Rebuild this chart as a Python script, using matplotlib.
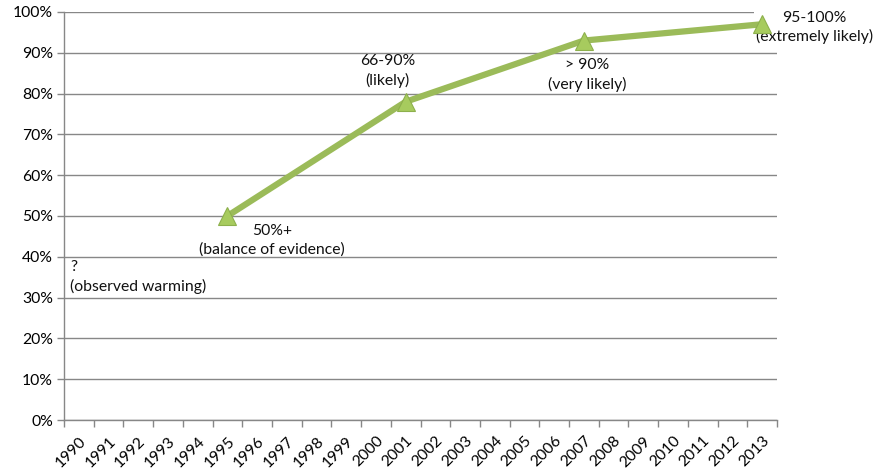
import matplotlib.pyplot as plt
import numpy as np

# categories and values
years = [str(y) for y in range(1990, 2014)]
pt_years = ["1995", "2001", "2007", "2013"]
pt_values = [50, 78, 93, 97]

# annotation labels: (year, y-value, text, dx, dy, ha, white box)
labels = [
    ("1990", 35, "?\n(observed warming)", -0.3, 0.0, "left", False),
    ("1995", 50, "50%+\n(balance of evidence)", 1.5, -6, "center", False),
    ("2001", 78, "66-90%\n(likely)", -0.6, 7.5, "center", False),
    ("2007", 93, "> 90%\n(very likely)", 0.1, -8.5, "center", False),
    ("2013", 97, "95-100%\n(extremely likely)", 1.75, -0.8, "center", True),
]

plt.rcParams['font.family'] = ['Lato', 'DejaVu Sans']
grid_col = '#878787'
green = '#9BBB59'
fs = 11.3

fig = plt.figure(figsize=(8.75, 4.7), dpi=100)
ax = fig.add_axes([64/875, 50/470, (777-64)/875, (420-12)/470])

idx = {y: i for i, y in enumerate(years)}
xs = [idx[y] + 0.5 for y in pt_years]

ax.plot(xs, pt_values, color=green, lw=4.5, solid_capstyle='butt', zorder=3)
ax.plot(xs, pt_values, linestyle='none', marker='^', markersize=13,
        markerfacecolor='#A7CB5E', markeredgecolor='#8DB04C', markeredgewidth=0.8, zorder=5)

for y, v, txt, dx, dy, ha, boxed in labels:
    box = dict(facecolor='white', edgecolor='none', pad=1.5) if boxed else None
    ax.text(idx[y] + 0.5 + dx, v + dy, txt, ha=ha, va='center', fontsize=fs,
            linespacing=1.4, color='#111111', zorder=2.5, bbox=box)

ax.set_xlim(0, len(years))
ax.set_ylim(0, 100)
ax.set_yticks(np.arange(0, 101, 10))
ax.set_yticklabels([f"{v}%" for v in range(0, 101, 10)], fontsize=fs)
ax.yaxis.grid(True, color=grid_col, lw=1)
ax.set_axisbelow(True)

ax.set_xticks(np.arange(len(years) + 1), minor=False)
ax.set_xticklabels([])
ax.set_xticks(np.arange(len(years)) + 0.5, minor=True)
ax.set_xticklabels(years, minor=True, rotation=45, ha='right', va='top',
                   rotation_mode='anchor', fontsize=fs)
ax.tick_params(axis='x', which='major', length=5, color=grid_col, width=1)
ax.tick_params(axis='x', which='minor', length=0, pad=10)
ax.tick_params(axis='y', length=5, color=grid_col, width=1, pad=3)

for s in ['top', 'right']:
    ax.spines[s].set_visible(False)
for s in ['left', 'bottom']:
    ax.spines[s].set_color(grid_col)
    ax.spines[s].set_linewidth(1)

fig.savefig('out.png', dpi=100)
